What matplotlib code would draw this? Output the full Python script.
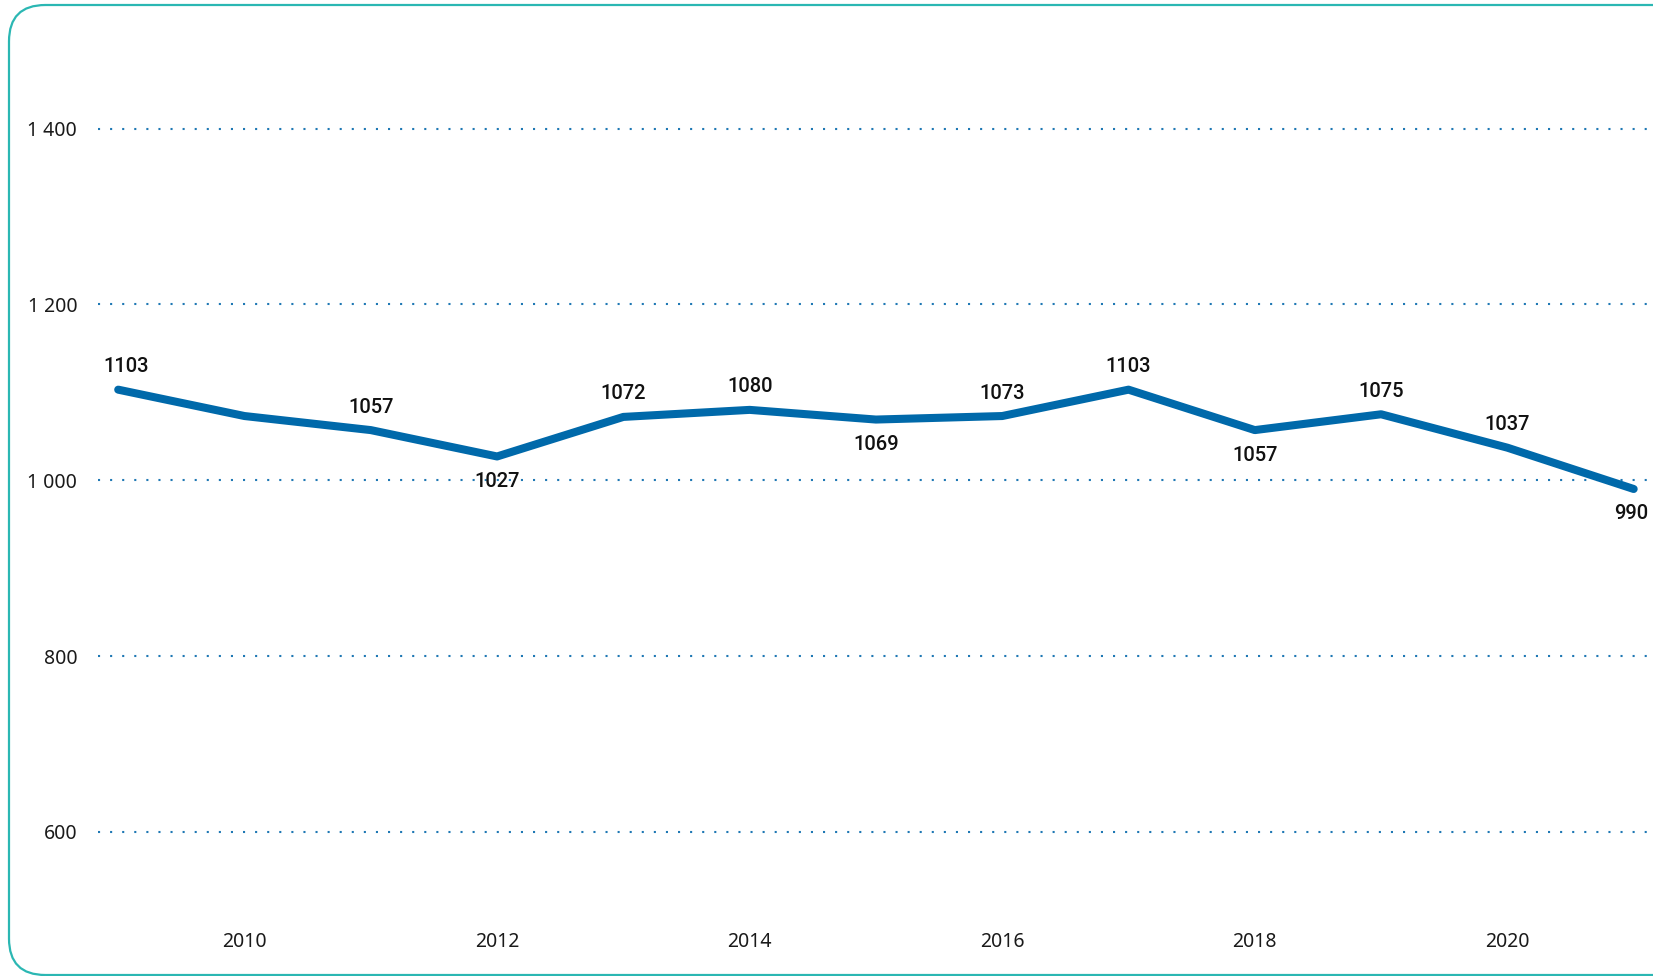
#!/usr/bin/env python3

import matplotlib
matplotlib.use('Agg')
import matplotlib.pyplot as plt
from matplotlib.patches import FancyBboxPatch

years = [2009, 2010, 2011, 2012, 2013, 2014, 2015, 2016, 2017, 2018, 2019, 2020, 2021]
values = [1103, 1073, 1057, 1027, 1072, 1080, 1069, 1073, 1103, 1057, 1075, 1037, 990]
# which points carry a label and where it goes
label_pos = ['above', None, 'above', 'below', 'above', 'above', 'below',
             'above', 'above', 'below', 'above', 'above', 'below']
y_ticks = [600, 800, 1000, 1200, 1400]
x_ticks = [2010, 2012, 2014, 2016, 2018, 2020]

line_color = '#0069aa'
grid_color = '#1f78b4'
frame_color = '#2bb7b3'

W, H = 1653, 976
fig = plt.figure(figsize=(W / 100, H / 100), dpi=100)

# rounded frame, runs off the right edge
frame = FancyBboxPatch((9 / W, 1 / H), 1.2, (H - 6) / H,
                       boxstyle='round,pad=0,rounding_size=0.022',
                       transform=fig.transFigure, facecolor='none',
                       edgecolor=frame_color, linewidth=1.6, clip_on=False,
                       mutation_aspect=W / H)
fig.patches.append(frame)

ax = fig.add_axes([98 / W, (H - 919.7) / H, 1 - 98 / W, (919.7 - 40.7) / H])
ax.set_xlim(2008.84, 2021.153)
ax.set_ylim(500, 1500)

for s in ax.spines.values():
    s.set_visible(False)

ax.set_yticks(y_ticks)
ax.set_yticklabels(['{:,}'.format(v).replace(',', ' ') for v in y_ticks])
ax.set_xticks(x_ticks)
ax.set_xticklabels([str(x) for x in x_ticks])
ax.tick_params(axis='y', length=0, pad=15, labelsize=14, labelcolor='#1a1a1a')
ax.tick_params(axis='x', length=0, pad=8.5, labelsize=14, labelcolor='#1a1a1a')
for lab in ax.get_xticklabels() + ax.get_yticklabels():
    lab.set_fontfamily('Noto Sans')

for v in y_ticks:
    ax.axhline(v, color=grid_color, linewidth=1.5, linestyle=(0, (1, 4.8)), zorder=1)

ax.plot(years, values, color=line_color, linewidth=5.8,
        solid_capstyle='round', solid_joinstyle='round', zorder=3)

for i, (x, v, pos) in enumerate(zip(years, values, label_pos)):
    if pos is None:
        continue
    dx = 0
    if i == 0:
        dx = 6
    elif i == len(years) - 1:
        dx = -2
    dy = 16.5 if pos == 'above' else -18
    ax.annotate(str(v), (x, v), xytext=(dx, dy), textcoords='offset points',
                ha='center', va='center', fontsize=14.5, family='Roboto',
                weight='medium', color='#111111', zorder=4)

plt.savefig('out.png', dpi=100)
plt.close()
